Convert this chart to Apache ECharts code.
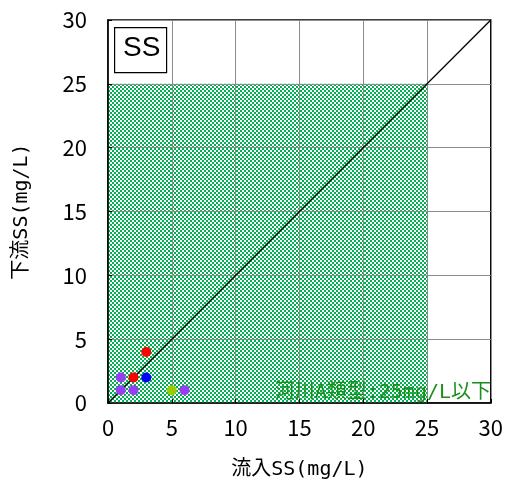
<!DOCTYPE html>
<html><head><meta charset="utf-8">
<script src="https://cdn.jsdelivr.net/npm/echarts@6/dist/echarts.min.js"></script>
<style>html,body{margin:0;padding:0;background:#fff}#c{width:506px;height:485px}</style>
</head><body><div id="c"></div>
<script>
const xTicks = [0, 5, 10, 15, 20, 25, 30];
const yTicks = [0, 5, 10, 15, 20, 25, 30];
const standardLimit = 25;
const diagonal = [[0, 0], [30, 30]];
const purplePoints = [[1, 2], [1, 1], [2, 1], [6, 1]];
const redPoints = [[3, 4], [2, 2]];
const bluePoints = [[3, 2]];
const greenPoints = [[5, 1]];
const xName = '流入SS(mg/L)';
const yName = '下流SS(mg/L)';
const boxLabel = 'SS';
const standardLabel = '河川A類型:25mg/L以下';

const tile = document.createElement('canvas');
tile.width = 4; tile.height = 4;
const tc = tile.getContext('2d');
tc.fillStyle = '#00b050'; tc.fillRect(0, 0, 4, 4);
tc.fillStyle = '#ffffff'; tc.fillRect(0, 0, 2, 2); tc.fillRect(2, 2, 2, 2);

const monoFont = "'DejaVu Sans Mono','Noto Sans CJK JP'";
const tickFont = "'Noto Sans CJK JP'";

const chart = echarts.init(document.getElementById('c'), null, {renderer: 'canvas'});
const axisCommon = (name, gap, ticks, margin) => ({
  type: 'value', min: ticks[0], max: ticks[ticks.length - 1], interval: ticks[1] - ticks[0],
  z: 2,
  name: name, nameLocation: 'middle', nameGap: gap,
  nameTextStyle: {fontFamily: monoFont, fontSize: 20, color: '#000'},
  axisLine: {show: true, lineStyle: {color: '#000', width: 1.5}},
  axisTick: {show: true, inside: true, length: 4, lineStyle: {color: '#000'}},
  axisLabel: {fontFamily: tickFont, fontSize: 22, color: '#000', margin: margin},
  splitLine: {show: true, lineStyle: {color: '#8c8c8c', width: 1}}
});
const scat = (data, color) => ({
  type: 'scatter', data: data, z: 4, symbol: 'circle', symbolSize: 10,
  itemStyle: {color: color, opacity: 1}
});
chart.setOption({
  animation: false,
  grid: {left: 108, right: 13, top: 20, bottom: 78, show: true, borderColor: '#000', borderWidth: 1.5, backgroundColor: 'transparent'},
  xAxis: axisCommon(xName, 57, xTicks, 14),
  yAxis: axisCommon(yName, 76, yTicks, 21),
  series: [
    {
      type: 'line', data: [], z: 1,
      markArea: {
        silent: true,
        itemStyle: {color: {image: tile, repeat: 'repeat'}, opacity: 1},
        data: [[{xAxis: 0, yAxis: 0}, {xAxis: standardLimit, yAxis: standardLimit}]]
      }
    },
    {
      type: 'line', data: diagonal, z: 3, symbol: 'none',
      lineStyle: {color: '#000', width: 1.3}
    },
    scat(purplePoints, '#9b3cf5'),
    scat(redPoints, '#ff0000'),
    scat(bluePoints, '#0000ff'),
    scat(greenPoints, '#99cc00')
  ],
  graphic: [
    {type: 'rect', left: 114, top: 27, z: 10, shape: {width: 52, height: 45},
     style: {fill: '#fff', stroke: '#000', lineWidth: 1.2}},
    {type: 'text', left: 123, top: 34, z: 11,
     style: {text: boxLabel, font: "28px 'Liberation Sans'", fill: '#000'}},
    {type: 'text', right: 15, top: 383, z: 11,
     style: {text: standardLabel, font: "20px " + monoFont, fill: '#1a901a'}}
  ]
});
</script></body></html>
